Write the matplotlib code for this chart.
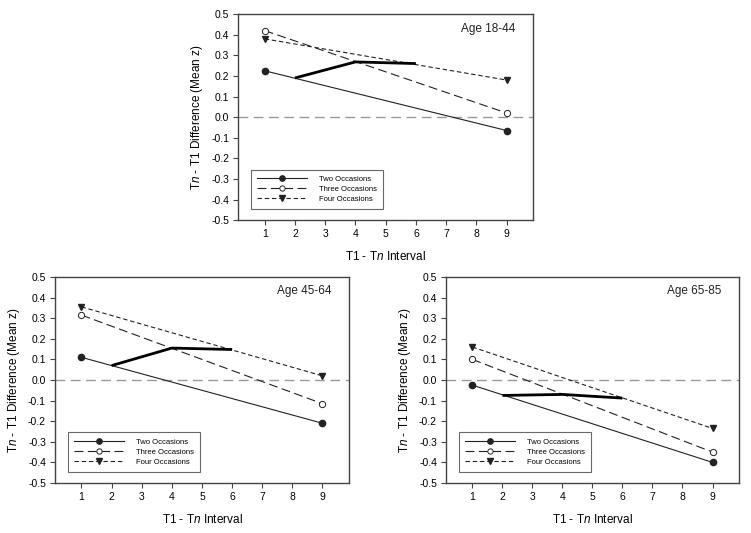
"""Tn - T1 difference by interval, three age groups."""

import matplotlib
matplotlib.use("Agg")
import matplotlib.pyplot as plt

plt.rcParams["font.family"] = ["Liberation Sans", "DejaVu Sans"]
plt.rcParams["mathtext.fontset"] = "custom"
plt.rcParams["mathtext.rm"] = "Liberation Sans"
plt.rcParams["mathtext.it"] = "Liberation Sans:italic"

INK = "#222222"
SPINE = "#444444"

ends_x = [1, 9]
mid_x = [2, 4, 6]

panels = ["Age 18-44", "Age 45-64", "Age 65-85"]
two_occ = [[0.225, -0.065], [0.11, -0.21], [-0.025, -0.40]]
three_occ = [[0.42, 0.02], [0.315, -0.115], [0.10, -0.35]]
four_occ = [[0.38, 0.18], [0.355, 0.02], [0.16, -0.235]]
thick = [[0.19, 0.268, 0.26], [0.07, 0.155, 0.148], [-0.075, -0.07, -0.088]]

yticks = [-0.5, -0.4, -0.3, -0.2, -0.1, 0.0, 0.1, 0.2, 0.3, 0.4, 0.5]
xticks = list(range(1, 10))

fig = plt.figure(figsize=(7.51, 5.33), dpi=100)
rects = [
    [0.317, 0.587, 0.393, 0.3865],
    [0.0732, 0.0938, 0.3915, 0.3865],
    [0.5939, 0.0938, 0.390, 0.3865],
]

for i, rect in enumerate(rects):
    ax = fig.add_axes(rect)
    ax.axhline(0, color="#999999", lw=1.0, dashes=(7, 4), zorder=1)
    ax.plot(ends_x, two_occ[i], color=INK, lw=0.8, marker="o", ms=4.5,
            mfc=INK, mec=INK, label="Two Occasions", zorder=3)
    ax.plot(ends_x, three_occ[i], color=INK, lw=0.8, dashes=(8, 4), marker="o",
            ms=4.5, mfc="white", mec=INK, mew=0.7, label="Three Occasions", zorder=3)
    ax.plot(ends_x, four_occ[i], color=INK, lw=0.8, dashes=(4, 2.5), marker="v",
            ms=4.5, mfc=INK, mec=INK, label="Four Occasions", zorder=3)
    ax.plot(mid_x, thick[i], color="black", lw=2.0, solid_capstyle="butt", zorder=4)

    ax.set_xlim(0.12, 9.88)
    ax.set_ylim(-0.5, 0.5)
    ax.set_xticks(xticks)
    ax.set_yticks(yticks, [f"{v:.1f}" for v in yticks])
    ax.tick_params(labelsize=7.5, length=3.5, width=0.8, color=SPINE, pad=3)
    for s in ax.spines.values():
        s.set_color(SPINE)
        s.set_linewidth(1.0)
    ax.set_xlabel("T1 - T$\\it{n}$ Interval", fontsize=8.5, labelpad=8)
    ax.set_ylabel("T$\\it{n}$ - T1 Difference (Mean z)", fontsize=8.5, labelpad=4)
    ax.text(0.94, 0.93, panels[i], transform=ax.transAxes, ha="right", va="center",
            fontsize=8.5, color=INK)
    leg = ax.legend(loc="lower left", bbox_to_anchor=(0.044, 0.053), fontsize=5.5,
                    frameon=True, fancybox=False, handlelength=6.5, handletextpad=1.6,
                    borderpad=0.8, labelspacing=0.35, borderaxespad=0, markerscale=0.85)
    leg.get_frame().set_edgecolor(SPINE)
    leg.get_frame().set_linewidth(0.8)

fig.savefig("out.png", dpi=100)
